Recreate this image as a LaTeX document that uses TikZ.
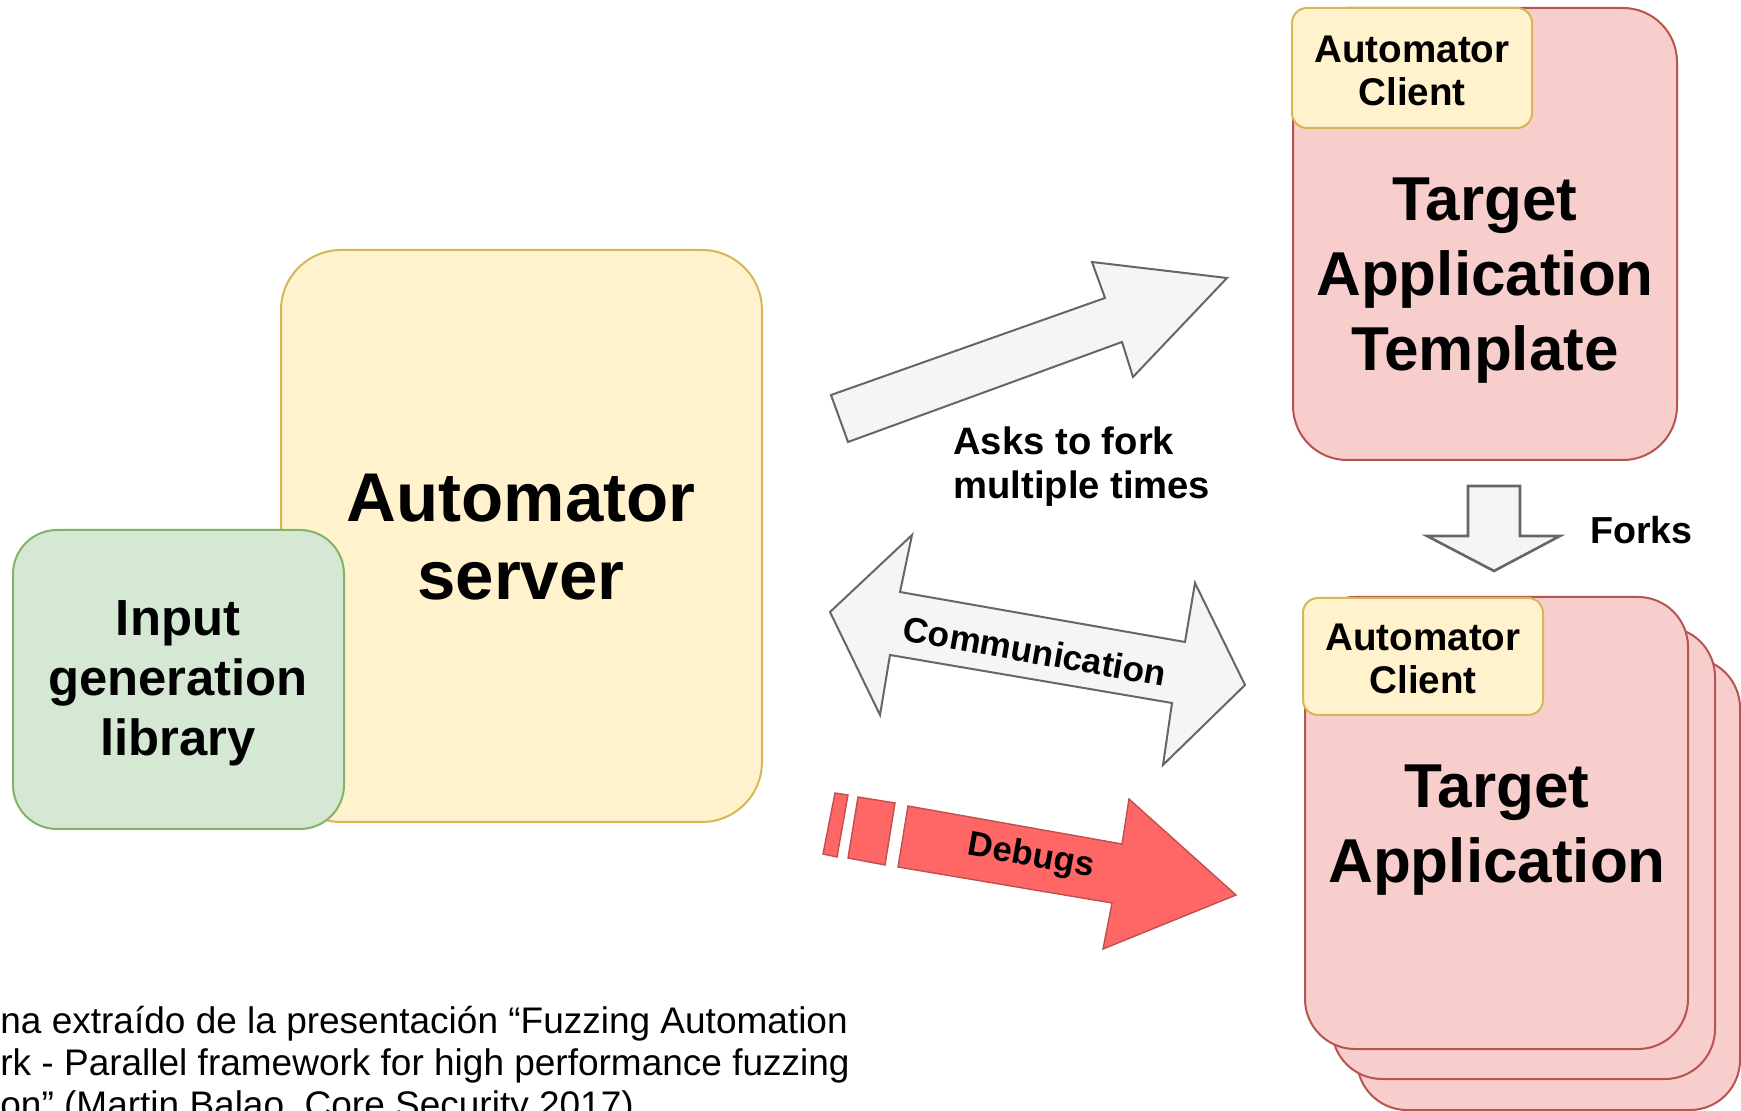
\documentclass[tikz,border=0pt]{standalone}
\usepackage{fontspec}
\setmainfont{Liberation Sans}
\definecolor{yfill}{HTML}{FFF2CC}
\definecolor{ydraw}{HTML}{D6B656}
\definecolor{gfill}{HTML}{D5E8D4}
\definecolor{gdraw}{HTML}{82B366}
\definecolor{rfill}{HTML}{F8CECC}
\definecolor{rdraw}{HTML}{B85450}
\definecolor{afill}{HTML}{F5F5F5}
\definecolor{adraw}{HTML}{666666}
\definecolor{dfill}{HTML}{FF6666}
\definecolor{ddraw}{HTML}{C0504D}
\begin{document}
\begin{tikzpicture}[x=0.5pt,y=-0.5pt,
  boxshape/.style={draw, rectangle, inner sep=0pt, line width=1pt},
  yellowbox/.style={boxshape, fill=yfill, draw=ydraw},
  greenbox/.style={boxshape, fill=gfill, draw=gdraw},
  redbox/.style={boxshape, fill=rfill, draw=rdraw},
  appbox/.style={redbox, rounded corners=25pt, minimum width=191.5pt, minimum height=226pt},
  grayarrow/.style={fill=afill, draw=adraw, line width=1pt, line join=miter},
  redarrow/.style={fill=dfill, draw=ddraw, line width=0.7pt, line join=miter},
  label/.style={inner sep=0pt, font=\bfseries},
]
\useasboundingbox (0,0) rectangle (1741,1111);
\clip (0,0) rectangle (1741,1111);

% Automator server and input library
\node[yellowbox, rounded corners=30pt, minimum width=240.5pt, minimum height=286pt] (server) at (521.5,536) {};
\node[greenbox, rounded corners=22pt, minimum width=165.5pt, minimum height=149.5pt] (input) at (178.5,679.5) {};
\node[label, anchor=base, align=center, font=\bfseries\fontsize{34.5}{39}\selectfont] (servertxt) at (521,600) {Automator\\server};
\node[label, anchor=base, align=center, font=\bfseries\fontsize{25.4}{30}\selectfont] (inputtxt) at (178,756) {Input\\generation\\library};

% Template
\node[redbox, rounded corners=27pt, minimum width=192pt, minimum height=226pt] (template) at (1485,234) {};
\node[yellowbox, rounded corners=7.5pt, minimum width=120pt, minimum height=60pt] (clienttop) at (1412,68) {};
\node[label, anchor=base, align=center, font=\bfseries\fontsize{19.3}{21.5}\selectfont] (clienttoptxt) at (1412,106) {Automator\\Client};
\node[label, anchor=base, align=center, font=\bfseries\fontsize{31}{37.5}\selectfont] (templatetxt) at (1485,371) {Target\\Application\\Template};

% Stack of target applications
\node[appbox] (app3) at (1548.5,884) {};
\node[appbox] (app2) at (1523.5,853) {};
\node[appbox] (app1) at (1496.5,823) {};
\node[yellowbox, rounded corners=7.5pt, minimum width=120pt, minimum height=58.5pt] (clientbot) at (1423,656.5) {};
\node[label, anchor=base, align=center, font=\bfseries\fontsize{19.3}{21.5}\selectfont] (clientbottxt) at (1423,694) {Automator\\Client};
\node[label, anchor=base, align=center, font=\bfseries\fontsize{31}{37.5}\selectfont] (apptxt) at (1497,883) {Target\\Application};

% Forks arrow
\draw[grayarrow, line width=1.3pt] (1468,486) -- (1520,486) -- (1520,536) -- (1560,536) -- (1494,571) -- (1427,536) -- (1468,536) -- cycle;
\node[label, anchor=base west, font=\bfseries\fontsize{18.8}{22}\selectfont] (forks) at (1590,544) {Forks};

% Asks to fork arrow
\draw[grayarrow] (848,442) -- (831,395) -- (1105,298) -- (1092,262) -- (1227,278) -- (1133,377) -- (1122,342) -- cycle;
\node[label, anchor=base west, align=left, font=\bfseries\fontsize{19.1}{22}\selectfont] (asks) at (953,499) {Asks to fork\\multiple times};

% Communication arrow
\draw[grayarrow] (830,612) -- (912,535) -- (900,592) -- (1185,642) -- (1195,583) -- (1245,685) -- (1163,765) -- (1172,703) -- (890,655) -- (880,715) -- cycle;
\node[label, rotate=-10, font=\bfseries\fontsize{17.6}{20}\selectfont] (comm) at (1035,651) {Communication};

% Debugs arrow
\draw[redarrow] (835,793) -- (848,795) -- (837,857) -- (823,854) -- cycle;
\draw[redarrow] (858,797) -- (895,803) -- (885,865) -- (848,858) -- cycle;
\draw[redarrow] (908,806) -- (1122,844) -- (1129,799) -- (1236,895) -- (1103,949) -- (1112,903) -- (898,867) -- cycle;
\node[label, rotate=-10, font=\bfseries\fontsize{17.3}{20}\selectfont] (debugs) at (1031,857) {Debugs};

% Caption
\node[inner sep=0pt, anchor=base west, align=left, font=\fontsize{18.5}{21}\selectfont] (caption) at (0,1117) {na extraído de la presentación “Fuzzing Automation\\rk - Parallel framework for high performance fuzzing\\on” (Martin Balao, Core Security 2017)};
\end{tikzpicture}
\end{document}
